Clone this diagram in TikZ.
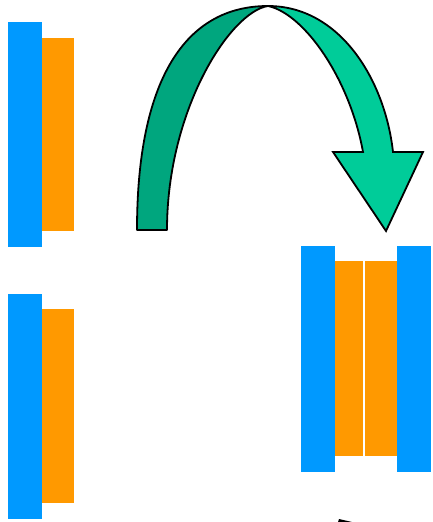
\documentclass[tikz,border=0pt]{standalone}
\usepackage{tikz}
\definecolor{plateblue}{HTML}{0099FF}
\definecolor{filmorange}{HTML}{FF9900}
\definecolor{backgreen}{HTML}{00A67E}
\definecolor{frontgreen}{HTML}{00CC99}
\tikzset{
  plate/.style={fill=plateblue},
  film/.style={fill=filmorange},
  ribbonback/.style={fill=backgreen,draw=black,line width=1.8pt,line join=round},
  ribbonfront/.style={fill=frontgreen,draw=black,line width=1.8pt,line join=miter}
}
\begin{document}
\begin{tikzpicture}[x=1pt,y=-1pt]
	\useasboundingbox (0,0) rectangle (432,522);
	%LEFT, TOP
	\fill[plate] (8,22) rectangle (42,247);
	\fill[film] (42,38) rectangle (74,231);
	%LEFT, BOTTOM
	\fill[plate] (8,294) rectangle (42,519);
	\fill[film] (42,309) rectangle (74,503);
	
	%RIGHT, JOINED
	\fill[plate] (301,246) rectangle (335,472);
	\fill[film] (335,261) rectangle (363,456);
	\fill[film] (365,261) rectangle (397,456);
	\fill[plate] (397,246) rectangle (431,472);
	
	%TURNING ARROW
	\coordinate (top) at (268,6);
	\draw[ribbonback] (137,230) .. controls (137,80) and (185,6) .. (top)
		.. controls (230,12) and (167,110) .. (167,230) -- cycle;
	\draw[ribbonfront] (top) .. controls (340,6) and (385,80) .. (393,152)
		-- (423,152) -- (386,231) -- (333,152) -- (363,152)
		.. controls (350,80) and (305,14) .. (top);
	
	\fill (338,522) -- (339,519) -- (352,522) -- cycle;
\end{tikzpicture}
\end{document}
